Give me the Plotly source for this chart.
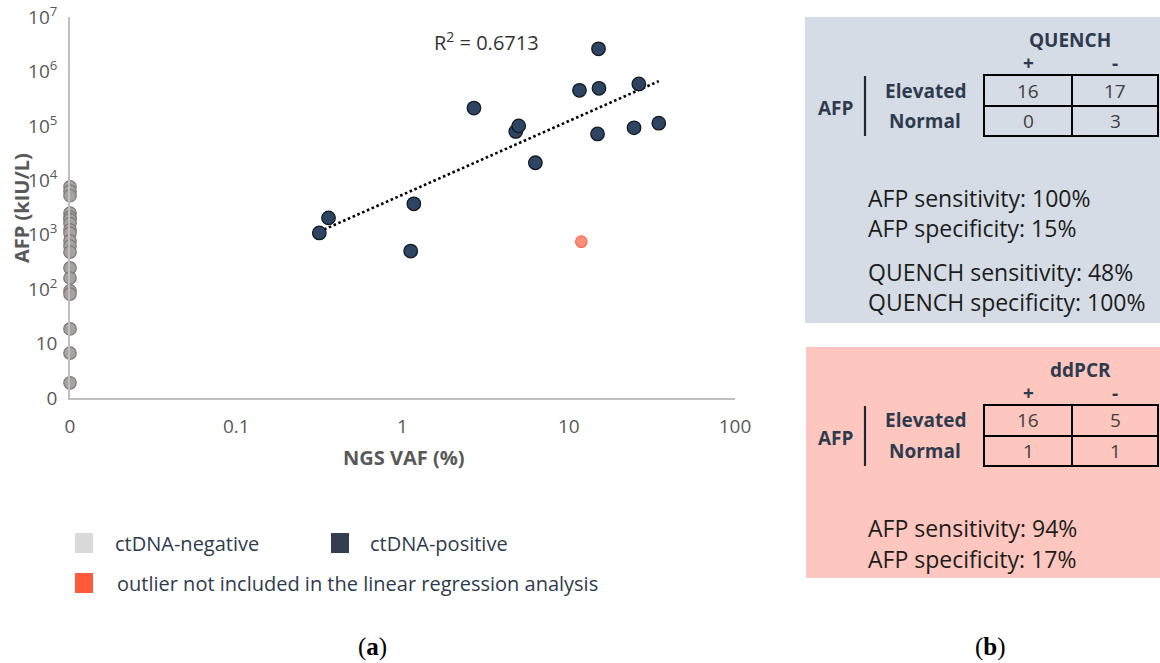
import numpy as np
import plotly.graph_objects as go

# ---------------- data ----------------
X_TICK_VALS = [0.01, 0.1, 1, 10, 100]
X_TICK_TEXT = ["0", "0.1", "1", "10", "100"]
Y_TICK_VALS = [1, 10, 1e2, 1e3, 1e4, 1e5, 1e6, 1e7]
Y_TICK_TEXT = ["0", "10", "10<sup>2</sup>", "10<sup>3</sup>", "10<sup>4</sup>",
               "10<sup>5</sup>", "10<sup>6</sup>", "10<sup>7</sup>"]

ZERO_VAF_POS = 0.01  # position of the "0" VAF category on the log axis

# ctDNA-negative (VAF = 0)
NEG_AFP = [7600, 6300, 5200, 2500, 2100, 1900, 1600, 1230, 1070, 770, 620, 480,
           245, 160, 93, 81, 18.6, 6.7, 1.9]

# ctDNA-positive
POS_VAF = [0.316, 0.359, 1.12, 1.17, 2.69, 4.8, 5.0, 6.3, 11.6, 14.9, 15.1, 15.2,
           24.7, 26.4, 34.8]
POS_AFP = [1080, 2040, 500, 3700, 2.12e5, 7.9e4, 1.0e5, 2.1e4, 4.5e5, 7.1e4,
           2.6e6, 4.9e5, 9.2e4, 5.9e5, 1.12e5]

# outlier
OUT_VAF = [11.9]
OUT_AFP = [745]

R2_TEXT = "R<sup>2</sup> = 0.6713"

# contingency tables
QUENCH_TABLE = [[16, 17], [0, 3]]
QUENCH_STATS = ["AFP sensitivity: 100%", "AFP specificity: 15%",
                "QUENCH sensitivity: 48%", "QUENCH specificity: 100%"]
DDPCR_TABLE = [[16, 5], [1, 1]]
DDPCR_STATS = ["AFP sensitivity: 94%", "AFP specificity: 17%"]
ROW_LABELS = ["Elevated", "Normal"]
COL_LABELS = ["+", "-"]

LEGEND_ITEMS = ["ctDNA-negative", "ctDNA-positive",
                "outlier not included in the linear regression analysis"]

# ---------------- layout helpers ----------------
W, H = 1160, 663
L, R, T, B = 70, 425, 17, 265
PW, PH = W - L - R, H - T - B


def PX(x):
    return (x - L) / PW


def PY(y):
    return (H - B - y) / PH


FONT = "Open Sans"
DARK = "#2E3B4E"
GRAY_TXT = "#595959"

fig = go.Figure()

# power trendline fitted on ctDNA-positive points
lx = np.log10(POS_VAF)
ly = np.log10(POS_AFP)
slope, icpt = np.polyfit(lx, ly, 1)
tx = np.array([min(POS_VAF), max(POS_VAF)])
ty = 10 ** (icpt + slope * np.log10(tx))

fig.add_trace(go.Scatter(
    x=[ZERO_VAF_POS] * len(NEG_AFP), y=NEG_AFP, mode="markers",
    marker=dict(size=12.5, color="#A8A1A1", line=dict(color="#7E7878", width=1.2)),
    cliponaxis=False, showlegend=False, hoverinfo="y"))

fig.add_trace(go.Scatter(
    x=tx, y=ty, mode="lines",
    line=dict(color="black", width=2.6, dash="2.6px,2.6px"),
    showlegend=False, hoverinfo="skip"))

fig.add_trace(go.Scatter(
    x=POS_VAF, y=POS_AFP, mode="markers",
    marker=dict(size=13.5, color="#2D4562", line=dict(color="#131a22", width=1.3)),
    cliponaxis=False, showlegend=False))

fig.add_trace(go.Scatter(
    x=OUT_VAF, y=OUT_AFP, mode="markers",
    marker=dict(size=11.5, color="#F98E7A", line=dict(color="#FF6B50", width=1.2)),
    cliponaxis=False, showlegend=False))

shapes = []
ann = []

# R2
ann.append(dict(x=PX(486), y=PY(42), xref="paper", yref="paper", text=R2_TEXT,
                showarrow=False, font=dict(family=FONT, size=20, color="#333333"),
                xanchor="center", yanchor="middle"))

# axis titles
ann.append(dict(x=PX(22), y=PY(208), xref="paper", yref="paper",
                text="<b>AFP (kIU/L)</b>", textangle=-90, showarrow=False,
                font=dict(family=FONT, size=20, color=GRAY_TXT),
                xanchor="center", yanchor="middle"))
ann.append(dict(x=PX(404), y=PY(457), xref="paper", yref="paper",
                text="<b>NGS VAF (%)</b>", showarrow=False,
                font=dict(family=FONT, size=20, color=GRAY_TXT),
                xanchor="center", yanchor="middle"))

# legend
leg_colors = ["#D9D9D9", "#333F50", "#FF5B3A"]
leg_pos = [(75, 543, 113), (331, 543, 368), (75, 583, 115)]
for (sx, sy, tx0), col, lab in zip(leg_pos, leg_colors, LEGEND_ITEMS):
    shapes.append(dict(type="rect", xref="paper", yref="paper",
                       x0=PX(sx), x1=PX(sx + 18), y0=PY(sy + 10), y1=PY(sy - 10),
                       fillcolor=col, line=dict(width=0)))
    ann.append(dict(x=PX(tx0), y=PY(sy), xref="paper", yref="paper", text=lab,
                    showarrow=False, font=dict(family=FONT, size=20, color=DARK),
                    xanchor="left", yanchor="middle"))

# panel labels
ann.append(dict(x=PX(372), y=PY(647), xref="paper", yref="paper", text="(<b>a</b>)",
                showarrow=False, font=dict(family="Liberation Serif", size=25, color="black"),
                xanchor="center", yanchor="middle"))
ann.append(dict(x=PX(990), y=PY(647), xref="paper", yref="paper", text="(<b>b</b>)",
                showarrow=False, font=dict(family="Liberation Serif", size=25, color="black"),
                xanchor="center", yanchor="middle"))

# right panels
shapes.append(dict(type="rect", xref="paper", yref="paper", layer="below",
                   x0=PX(805), x1=PX(1160), y0=PY(323), y1=PY(17),
                   fillcolor="#D6DCE5", line=dict(width=0)))
shapes.append(dict(type="rect", xref="paper", yref="paper", layer="below",
                   x0=PX(806), x1=PX(1160), y0=PY(578), y1=PY(347),
                   fillcolor="#FDC6BE", line=dict(width=0)))


def add_table(title, title_x, top, table, stats, stat_ys):
    ann.append(dict(x=PX(title_x), y=PY(top - 35), xref="paper", yref="paper",
                    text="<b>%s</b>" % title, showarrow=False,
                    font=dict(family=FONT, size=19, color=DARK),
                    xanchor="center", yanchor="middle"))
    col_x = [1028, 1115]
    for cx, cl in zip(col_x, COL_LABELS):
        ann.append(dict(x=PX(cx), y=PY(top - 12), xref="paper", yref="paper",
                        text="<b>%s</b>" % cl, showarrow=False,
                        font=dict(family=FONT, size=19, color=DARK),
                        xanchor="center", yanchor="middle"))
    xl, xm, xr = 984, 1072, 1158
    yt, ym, yb = top, top + 31, top + 61
    lw = dict(color="black", width=2)
    shapes.append(dict(type="rect", xref="paper", yref="paper",
                       x0=PX(xl), x1=PX(xr), y0=PY(yb), y1=PY(yt), line=lw))
    shapes.append(dict(type="line", xref="paper", yref="paper",
                       x0=PX(xl), x1=PX(xr), y0=PY(ym), y1=PY(ym), line=lw))
    shapes.append(dict(type="line", xref="paper", yref="paper",
                       x0=PX(xm), x1=PX(xm), y0=PY(yb), y1=PY(yt), line=lw))
    shapes.append(dict(type="line", xref="paper", yref="paper",
                       x0=PX(865), x1=PX(865), y0=PY(yb), y1=PY(yt + 1),
                       line=dict(color="#1f2833", width=2.2)))
    ann.append(dict(x=PX(836), y=PY(top + 33), xref="paper", yref="paper",
                    text="<b>AFP</b>", showarrow=False,
                    font=dict(family=FONT, size=19, color=DARK),
                    xanchor="center", yanchor="middle"))
    row_y = [(yt + ym) / 2, (ym + yb) / 2]
    for ry, rl, row in zip(row_y, ROW_LABELS, table):
        ann.append(dict(x=PX(925), y=PY(ry), xref="paper", yref="paper",
                        text="<b>%s</b>" % rl, showarrow=False,
                        font=dict(family=FONT, size=19, color=DARK),
                        xanchor="center", yanchor="middle"))
        for cx, v in zip(col_x, row):
            ann.append(dict(x=PX(cx), y=PY(ry), xref="paper", yref="paper",
                            text=str(v), showarrow=False,
                            font=dict(family=FONT, size=19, color="#404040"),
                            xanchor="center", yanchor="middle"))
    for sy, st in zip(stat_ys, stats):
        ann.append(dict(x=PX(866), y=PY(sy), xref="paper", yref="paper",
                        text=st, showarrow=False,
                        font=dict(family=FONT, size=23, color="#1c1c1c"),
                        xanchor="left", yanchor="middle"))


add_table("QUENCH", 1070, 75, QUENCH_TABLE, QUENCH_STATS, [198, 228, 272, 302])
add_table("ddPCR", 1080, 405, DDPCR_TABLE, DDPCR_STATS, [528, 559])

axis_font = dict(family=FONT, size=19, color=GRAY_TXT)
fig.update_layout(
    width=W, height=H, margin=dict(l=L, r=R, t=T, b=B, autoexpand=False),
    paper_bgcolor="white", plot_bgcolor="white",
    xaxis=dict(type="log", range=[-2, 2], tickvals=X_TICK_VALS, ticktext=X_TICK_TEXT,
               showgrid=False, zeroline=False, showline=True, linecolor="#BFBFBF",
               linewidth=1.6, ticks="", tickfont=axis_font, ticklabelstandoff=10),
    yaxis=dict(type="log", range=[0, 7], tickvals=Y_TICK_VALS, ticktext=Y_TICK_TEXT,
               showgrid=False, zeroline=False, showline=True, linecolor="#BFBFBF",
               linewidth=1.6, ticks="", tickfont=axis_font, ticklabelstandoff=7),
    shapes=shapes, annotations=ann, showlegend=False,
)

fig.write_html("out.html", config={"displayModeBar": False},
               post_script="document.body.style.margin='0';document.body.style.overflow='hidden';")
